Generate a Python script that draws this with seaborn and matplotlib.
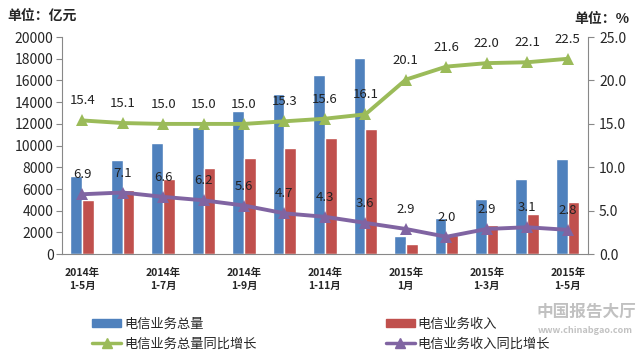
import numpy as np
import pandas as pd
import seaborn as sns
import matplotlib.pyplot as plt
from matplotlib.patches import Patch
from matplotlib.lines import Line2D

# data
periods = ["2014年\n1-5月", "2014年\n1-6月", "2014年\n1-7月", "2014年\n1-8月", "2014年\n1-9月",
           "2014年\n1-10月", "2014年\n1-11月", "2014年\n1-12月", "2015年\n1月", "2015年\n1-2月",
           "2015年\n1-3月", "2015年\n1-4月", "2015年\n1-5月"]
total_volume = [7200, 8700, 10200, 11700, 13200, 14800, 16500, 18100, 1700, 3300, 5100, 6900, 8800]
revenue = [4950, 5900, 6900, 7900, 8900, 9800, 10700, 11500, 900, 1800, 2700, 3700, 4800]
volume_growth = [15.4, 15.1, 15.0, 15.0, 15.0, 15.3, 15.6, 16.1, 20.1, 21.6, 22.0, 22.1, 22.5]
revenue_growth = [6.9, 7.1, 6.6, 6.2, 5.6, 4.7, 4.3, 3.6, 2.9, 2.0, 2.9, 3.1, 2.8]

s_volume = "电信业务总量"
s_revenue = "电信业务收入"
s_vol_g = "电信业务总量同比增长"
s_rev_g = "电信业务收入同比增长"

blue = "#4F81BD"
red = "#C0504D"
green = "#9BBB59"
purple = "#8064A2"

sns.set_style("white")
plt.rcParams['font.family'] = ['Noto Sans CJK SC', 'DejaVu Sans']

bars = pd.DataFrame({
    "period": periods * 2,
    "value": total_volume + revenue,
    "series": [s_volume] * len(periods) + [s_revenue] * len(periods),
})
lines = pd.DataFrame({
    "period": periods * 2,
    "value": volume_growth + revenue_growth,
    "series": [s_vol_g] * len(periods) + [s_rev_g] * len(periods),
})

fig = plt.figure(figsize=(6.39, 3.6), dpi=100)
ax = fig.add_axes([0.097, 0.294, 0.823, 0.603])

sns.barplot(data=bars, x="period", y="value", hue="series", order=periods,
            hue_order=[s_volume, s_revenue], palette=[blue, red],
            width=0.58, gap=0, saturation=1, legend=False, ax=ax)

ax.set_ylim(0, 20000)
ax.set_yticks(range(0, 20001, 2000))
ax.set_xlim(-0.5, len(periods) - 0.5)
ax.set_xlabel("")
ax.set_ylabel("")

ax2 = ax.twinx()
sns.lineplot(data=lines, x="period", y="value", hue="series", sort=False,
             hue_order=[s_vol_g, s_rev_g], palette=[green, purple],
             marker="^", markersize=8, markeredgewidth=0, linewidth=2.8,
             legend=False, ax=ax2)
ax2.set_ylim(0, 25)
ax2.set_yticks(np.arange(0, 25.1, 5))
ax2.set_yticklabels([f"{v:.1f}" for v in np.arange(0, 25.1, 5)])
ax2.set_ylabel("")
ax2.set_xlim(-0.5, len(periods) - 0.5)

for i, v in enumerate(volume_growth):
    ax2.annotate(f"{v:.1f}", (i, v), xytext=(0, 14), textcoords="offset points",
                 ha="center", va="center", fontsize=9.5, color="#222222")
for i, v in enumerate(revenue_growth):
    ax2.annotate(f"{v:.1f}", (i, v), xytext=(0, 14), textcoords="offset points",
                 ha="center", va="center", fontsize=9.5, color="#222222")

# x ticks: boundaries as tick marks, labels on every other category
ax.set_xticks(np.arange(-0.5, len(periods), 1), minor=False)
ax.set_xticklabels([])
ax.set_xticks(range(0, len(periods), 2), minor=True)
ax.set_xticklabels([periods[i] for i in range(0, len(periods), 2)], minor=True,
                   fontsize=7.5, fontweight="bold", linespacing=1.3)
ax.tick_params(axis="x", which="minor", length=0, pad=10)
ax.tick_params(axis="x", which="major", length=4, color="#888888", direction="out")

for a in (ax, ax2):
    a.spines["top"].set_visible(False)
    for side in ("left", "right", "bottom"):
        a.spines[side].set_color("#888888")
        a.spines[side].set_linewidth(0.8)
ax.spines["right"].set_visible(False)
ax2.spines["left"].set_visible(False)
ax2.spines["bottom"].set_visible(False)

ax.tick_params(axis="y", left=True, length=4, color="#888888", labelsize=10, pad=2)
ax2.tick_params(axis="y", right=True, length=4, color="#888888", labelsize=10, pad=4)

fig.text(0.012, 0.955, "单位：亿元", fontsize=10, fontweight="bold", va="center")
fig.text(0.985, 0.948, "单位：%", fontsize=10, fontweight="bold", va="center", ha="right")

# column-wise fill: col 1 = volume pair, col 2 = revenue pair
handles = [
    Patch(color=blue, label=s_volume),
    Line2D([0], [0], color=green, lw=2.5, marker="^", markersize=7, label=s_vol_g),
    Patch(color=red, label=s_revenue),
    Line2D([0], [0], color=purple, lw=2.5, marker="^", markersize=7, label=s_rev_g),
]
fig.legend(handles=handles, ncol=2, loc="upper left", bbox_to_anchor=(0.128, 0.147),
           frameon=False, fontsize=9.5, columnspacing=9.8, handlelength=2.2,
           handletextpad=0.2, handleheight=0.6, labelspacing=0.55, borderpad=0.3)

# watermark
fig.text(0.995, 0.135, "中国报告大厅", fontsize=12, fontweight="bold", color="#999999",
         ha="right", va="center", alpha=0.6)
fig.text(0.99, 0.083, "www.chinabgao.com", fontsize=6.5, fontweight="bold", color="#999999",
         ha="right", va="center", alpha=0.6)

fig.savefig("out.png", dpi=100)
